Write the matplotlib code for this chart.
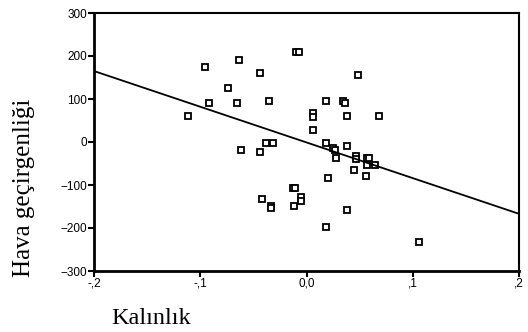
import matplotlib
matplotlib.use('Agg')
from matplotlib import pyplot as plt
import numpy as np

# Kalınlık (x) ve Hava geçirgenliği (y) değerleri
kalinlik = [-0.112, -0.0955, -0.0915, -0.0736, -0.0635, -0.0654, -0.0438, -0.0356,
            -0.038, -0.032, -0.0616, -0.0438, -0.0416, -0.0337, -0.0337,
            -0.010, -0.007, 0.048, 0.018, 0.034, 0.036, 0.0058, 0.0058, 0.038,
            0.068, 0.0058, 0.018, 0.025, 0.038, 0.0265, 0.028, 0.0466, 0.0466,
            0.057, 0.0585, 0.057, 0.0645, 0.0444, 0.056, 0.0205, -0.0124,
            -0.0108, -0.0055, -0.0055, -0.0118, 0.038, 0.018, 0.106]
hava = [61, 175, 91, 126, 190, 91, 160, 96,
        -3, -3, -19, -24, -133, -148, -153,
        210, 210, 155, 96, 96, 91, 67, 57, 61,
        61, 28, -3, -15, -9, -19, -38, -33, -40,
        -38, -38, -54, -54, -64, -78, -83, -108,
        -108, -129, -137, -148, -158, -198, -232]

# Regresyon doğrusu
intercept = -1
slope = -830

x_ticks = [-0.2, -0.1, 0.0, 0.1, 0.2]
x_labels = ['-,2', '-,1', '0,0', ',1', ',2']
y_ticks = [-300, -200, -100, 0, 100, 200, 300]

fig = plt.figure(figsize=(5.28, 3.32), dpi=100)
ax = fig.add_axes([94/528, 61/332, 425/528, 258/332])

ax.plot(kalinlik, hava, linestyle='none', marker='s', markersize=4.3,
        markerfacecolor='white', markeredgecolor='black', markeredgewidth=1.3)

xs = np.array([-0.2, 0.2])
ax.plot(xs, intercept + slope * xs, color='black', linewidth=1.3)

ax.set_xlim(-0.2, 0.2)
ax.set_ylim(-300, 300)
ax.set_xticks(x_ticks)
ax.set_xticklabels(x_labels)
ax.set_yticks(y_ticks)
ax.tick_params(direction='out', length=4, width=1.5, labelsize=8.5,
               pad=1, top=False, right=False)
for lab in ax.get_xticklabels() + ax.get_yticklabels():
    lab.set_family('Liberation Sans')

for side in ['left', 'bottom']:
    ax.spines[side].set_linewidth(2)
for side in ['top', 'right']:
    ax.spines[side].set_linewidth(1.5)

fig.text(111/528, 1 - 324/332, 'Kalınlık', family='Liberation Serif',
         fontsize=17.5, ha='left', va='baseline')
fig.text(24/528, 1 - 188/332, 'Hava geçirgenliği', family='Liberation Serif',
         fontsize=18, ha='center', va='center', rotation=90)

fig.savefig('out.png', dpi=100)
